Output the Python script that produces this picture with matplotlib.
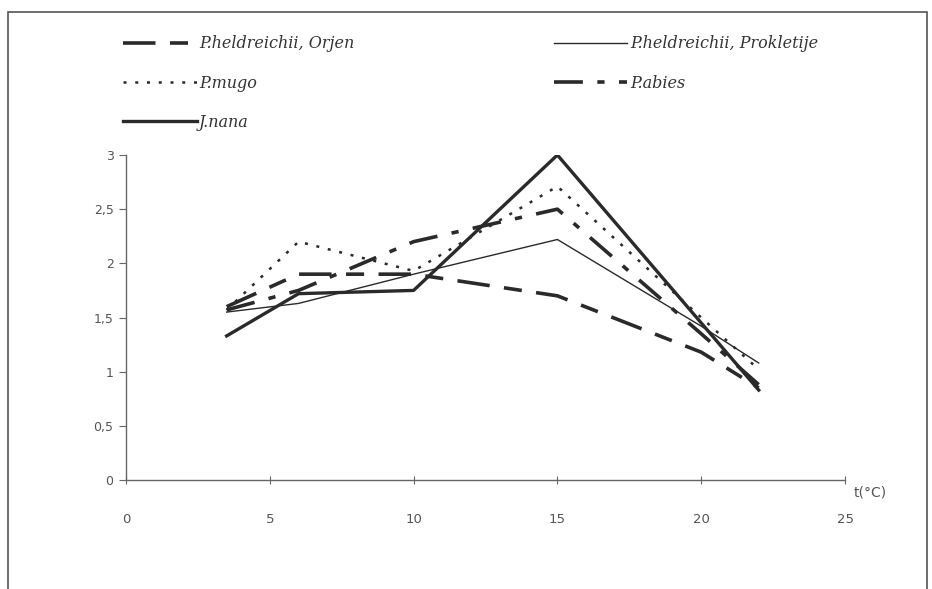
import matplotlib
matplotlib.use("Agg")
import matplotlib.pyplot as plt
from matplotlib.patches import Rectangle

# temperature points (deg C) and germination values
temps = [3.5, 6, 10, 15, 20, 22]

orjen = [1.60, 1.90, 1.90, 1.70, 1.18, 0.85]
prokletije = [1.55, 1.63, 1.90, 2.22, 1.42, 1.08]
mugo = [1.57, 2.20, 1.93, 2.71, 1.50, 1.02]
abies = [1.57, 1.75, 2.20, 2.50, 1.35, 0.88]
nana = [1.33, 1.72, 1.75, 3.00, 1.45, 0.83]

labels = ["P.heldreichii, Orjen", "P.heldreichii, Prokletije", "P.mugo", "P.abies", "J.nana"]

x_ticks = [0, 5, 10, 15, 20, 25]
y_ticks = [0, 0.5, 1, 1.5, 2, 2.5, 3]
y_tick_labels = ["0", "0,5", "1", "1,5", "2", "2,5", "3"]

ink = "#2a2a2a"
grey = "#666666"

fig = plt.figure(figsize=(9.32, 5.89), dpi=100)
ax = fig.add_axes([126 / 932, 1 - 480 / 589, (845 - 126) / 932, (480 - 155) / 589])

# outer frame round the whole chart
fig.patches.append(Rectangle((8 / 932, -0.05), (927 - 8) / 932, 1.05 - 12 / 589,
                             transform=fig.transFigure, fill=False,
                             edgecolor="#555555", linewidth=1.2, clip_on=False))

l_orjen, = ax.plot(temps, orjen, color=ink, linewidth=2.6,
                   dashes=(9, 4, 5, 4), solid_capstyle="butt")
l_prok, = ax.plot(temps, prokletije, color=ink, linewidth=1.0)
l_mugo, = ax.plot(temps, mugo, color=ink, linewidth=1.8, dashes=(1.2, 3.5))
l_abies, = ax.plot(temps, abies, color=ink, linewidth=2.6,
                   dashes=(8, 4, 2, 4))
l_nana, = ax.plot(temps, nana, color=ink, linewidth=2.4)

ax.set_xlim(0, 25)
ax.set_ylim(0, 3)
ax.set_xticks(x_ticks)
ax.set_yticks(y_ticks)
ax.set_yticklabels(y_tick_labels)

for side in ["top", "right"]:
    ax.spines[side].set_visible(False)
for side in ["left", "bottom"]:
    ax.spines[side].set_color(grey)
    ax.spines[side].set_linewidth(1.0)

ax.tick_params(axis="y", direction="out", length=5, pad=4, color=grey,
               labelcolor="#555555", labelsize=9)
ax.tick_params(axis="x", direction="inout", length=6, pad=21, color=grey,
               labelcolor="#555555", labelsize=9.5)

ax.text(1.012, -0.04, "t(°C)", transform=ax.transAxes, color="#555555",
        fontsize=10, ha="left", va="center")

# legend: column-major fill, so order puts Orjen/Prokletije on row one
handles = [l_orjen, l_mugo, l_nana, l_prok, l_abies]
order = [labels[0], labels[2], labels[4], labels[1], labels[3]]
leg = fig.legend(handles, order, ncol=2, loc="upper left",
                 bbox_to_anchor=(112 / 932, 1 - 24 / 589),
                 frameon=True, facecolor="white", edgecolor="white",
                 framealpha=1, handlelength=4.6, handletextpad=0.15,
                 columnspacing=12.5, labelspacing=1.4, borderpad=0.2,
                 prop={"family": "DejaVu Serif", "style": "italic", "size": 11.5})
for t in leg.get_texts():
    t.set_color("#333333")

fig.savefig("out.png", dpi=100)
